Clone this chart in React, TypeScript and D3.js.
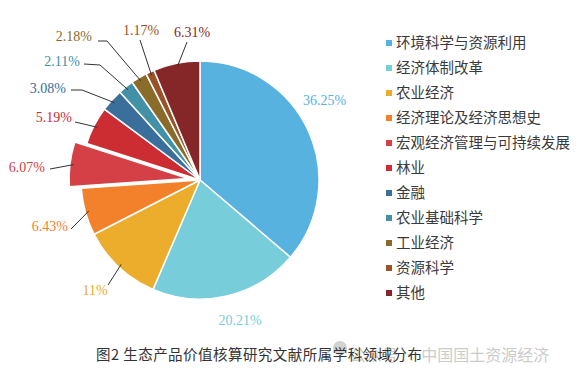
import React from "react";
import * as d3 from "d3";

const categories = [
  "环境科学与资源利用",
  "经济体制改革",
  "农业经济",
  "经济理论及经济思想史",
  "宏观经济管理与可持续发展",
  "林业",
  "金融",
  "农业基础科学",
  "工业经济",
  "资源科学",
  "其他",
];
const values = [36.25, 20.21, 11, 6.43, 6.07, 5.19, 3.08, 2.11, 2.18, 1.17, 6.31];
const valueLabels = ["36.25%", "20.21%", "11%", "6.43%", "6.07%", "5.19%", "3.08%", "2.11%", "2.18%", "1.17%", "6.31%"];
const colors = [
  "#58b2df", "#77cdd9", "#ebad2b", "#f3812c", "#d54046", "#cb2d33",
  "#3a6e9b", "#4291a6", "#8a6b2a", "#9a5229", "#852628",
];
const explodedIndex = 4;
const caption = "图2 生态产品价值核算研究文献所属学科领域分布";
const watermark = "公众号 · 中国国土资源经济";

// label layout (offsets from pie centre): text anchor point, optional elbow, line end
type LabelLayout = { tx: number; ty: number; anchor: string; elbow?: [number, number]; end?: [number, number] };
const labelLayout: LabelLayout[] = [
  { tx: 103, ty: -75, anchor: "start" },
  { tx: 40, ty: 145, anchor: "middle" },
  { tx: -105, ty: 115, anchor: "middle", end: [-92, 105] },
  { tx: -132, ty: 51, anchor: "end", end: [-129, 49] },
  { tx: -155, ty: -8, anchor: "end", end: [-150, -11] },
  { tx: -128, ty: -58, anchor: "end", end: [-125, -58] },
  { tx: -134, ty: -87, anchor: "end", elbow: [-118, -90], end: [-129, -90] },
  { tx: -120, ty: -114, anchor: "end", elbow: [-100, -115], end: [-116, -116] },
  { tx: -108, ty: -139, anchor: "end", elbow: [-93, -139], end: [-102, -139] },
  { tx: -59, ty: -145, anchor: "middle", end: [-60, -140] },
  { tx: -8, ty: -143, anchor: "middle", end: [-13, -138] },
];

export default function App() {
  const width = 579;
  const height = 378;
  const cx = 200;
  const cy = 180;
  const R = 119;
  const explode = 12;

  const pie = d3.pie<number>().sort(null).value((d) => d).startAngle(0).endAngle(2 * Math.PI);
  const arcs = pie(values);
  const arc = d3.arc<d3.PieArcDatum<number>>().innerRadius(0).outerRadius(R);

  const polar = (a: number, r: number): [number, number] => [Math.sin(a) * r, -Math.cos(a) * r];

  const legendX = 386;
  const legendY0 = 43;
  const legendStep = 25;

  return (
    <svg width={width} height={height} style={{ position: "absolute", left: 0, top: 0 }}>
      <rect width={width} height={height} fill="#ffffff" />
      <g transform={`translate(${cx},${cy})`}>
        {arcs.map((a, i) => {
          const mid = (a.startAngle + a.endAngle) / 2;
          const off = i === explodedIndex ? polar(mid, explode) : [0, 0];
          return (
            <path
              key={i}
              d={arc(a) || ""}
              transform={`translate(${off[0]},${off[1]})`}
              fill={colors[i]}
              stroke="#ffffff"
              strokeWidth={1.5}
              strokeLinejoin="round"
            />
          );
        })}
        {arcs.map((a, i) => {
          const L = labelLayout[i];
          if (!L.end) return null;
          const mid = (a.startAngle + a.endAngle) / 2;
          const extra = i === explodedIndex ? explode : 0;
          const s = polar(mid, R * 0.97 + extra);
          const pts: [number, number][] = [s];
          if (L.elbow) pts.push(L.elbow);
          pts.push(L.end);
          const line = d3.line()(pts) || "";
          return <path key={"l" + i} d={line} fill="none" stroke="#333333" strokeWidth={1} />;
        })}
        {arcs.map((a, i) => {
          const L = labelLayout[i];
          return (
            <text
              key={"t" + i}
              x={L.tx}
              y={L.ty}
              textAnchor={L.anchor}
              fill={colors[i]}
              fontFamily="'Liberation Serif', 'Times New Roman', serif"
              fontSize={14}
            >
              {valueLabels[i]}
            </text>
          );
        })}
      </g>
      <g>
        {categories.map((c, i) => (
          <g key={c} transform={`translate(${legendX},${legendY0 + i * legendStep})`}>
            <rect x={0} y={-3} width={6} height={6} fill={colors[i]} />
            <text
              x={10}
              y={0}
              dy="0.35em"
              fontFamily="'Noto Sans CJK SC', sans-serif"
              fontSize={14.5}
              fill="#3a3a3a"
            >
              {c}
            </text>
          </g>
        ))}
      </g>
      <g opacity={0.5}>
        <circle cx={340} cy={348} r={7} fill="#a8a8a8" />
        <text
          x={350}
          y={361}
          fontFamily="'Noto Sans CJK SC', sans-serif"
          fontSize={16}
          fill="#999999"
        >
          {watermark}
        </text>
      </g>
      <text
        x={96}
        y={360}
        fontFamily="'Noto Sans CJK SC', sans-serif"
        fontSize={14.5}
        fill="#333333"
        textLength={326}
      >
        {caption}
      </text>
    </svg>
  );
}
